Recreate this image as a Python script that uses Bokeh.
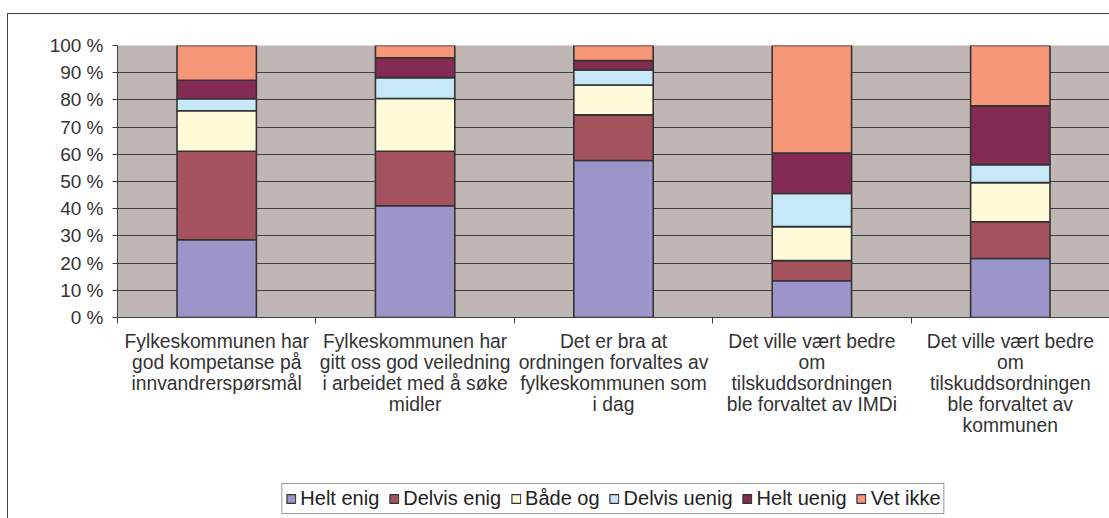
from bokeh.plotting import figure
from bokeh.layouts import column
from bokeh.models import Range1d, FixedTicker, Legend, LegendItem, ColumnDataSource
from bokeh.embed import file_html
from bokeh.resources import INLINE

categories = [
    "Fylkeskommunen har\ngod kompetanse på\ninnvandrerspørsmål",
    "Fylkeskommunen har\ngitt oss god veiledning\ni arbeidet med å søke\nmidler",
    "Det er bra at\nordningen forvaltes av\nfylkeskommunen som\ni dag",
    "Det ville vært bedre\nom\ntilskuddsordningen\nble forvaltet av IMDi",
    "Det ville vært bedre\nom\ntilskuddsordningen\nble forvaltet av\nkommunen",
]
series = ["Helt enig", "Delvis enig", "Både og", "Delvis uenig", "Helt uenig", "Vet ikke"]
helt_enig = [28.6, 41.1, 57.7, 13.5, 21.7]
delvis_enig = [32.5, 20.0, 16.8, 7.4, 13.5]
bade_og = [14.9, 19.4, 11.0, 12.5, 14.4]
delvis_uenig = [4.4, 7.7, 5.5, 12.2, 6.6]
helt_uenig = [6.8, 7.3, 3.5, 14.9, 21.6]
vet_ikke = [12.8, 4.5, 5.5, 39.5, 22.2]
colors = ["#9B95C9", "#A5525F", "#FFFAD7", "#C6E8F8", "#832B53", "#F6977A"]
y_ticks = list(range(0, 101, 10))

xs = list(range(1, len(categories) + 1))
source = ColumnDataSource(dict(
    x=xs,
    s0=helt_enig, s1=delvis_enig, s2=bade_og, s3=delvis_uenig, s4=helt_uenig, s5=vet_ikke,
))
keys = ["s0", "s1", "s2", "s3", "s4", "s5"]

FONT = "Liberation Sans"
DARK = "#404040"

p = figure(width=1101, height=424, x_range=Range1d(0.5, len(categories) + 0.5),
           y_range=Range1d(0, 100), output_backend="svg", toolbar_location=None,
           min_border_left=109, min_border_right=0, min_border_top=31, min_border_bottom=0)
p.background_fill_color = "#C0B7B4"
p.border_fill_color = "white"
p.outline_line_color = None

renderers = p.vbar_stack(keys, x="x", width=0.4, color=colors, line_color="#333333",
                         line_width=1.6, source=source)

p.xgrid.grid_line_color = None
p.ygrid.grid_line_color = DARK
p.ygrid.grid_line_width = 1
p.ygrid.ticker = FixedTicker(ticks=y_ticks)

p.yaxis.ticker = FixedTicker(ticks=y_ticks)
p.yaxis.major_label_overrides = {t: f"{t} %" for t in y_ticks}
p.yaxis.axis_line_color = DARK
p.yaxis.major_tick_line_color = DARK
p.yaxis.major_tick_in = 0
p.yaxis.major_tick_out = 5
p.yaxis.minor_tick_line_color = None
p.yaxis.major_label_text_font = FONT
p.yaxis.major_label_text_font_size = "19px"
p.yaxis.major_label_text_color = "#333333"
p.yaxis.major_label_standoff = 9

p.xaxis.ticker = FixedTicker(ticks=xs, minor_ticks=[x - 0.5 for x in xs] + [xs[-1] + 0.5])
p.xaxis.major_label_overrides = {x: c for x, c in zip(xs, categories)}
p.xaxis.axis_line_color = DARK
p.xaxis.major_tick_line_color = None
p.xaxis.major_tick_in = 0
p.xaxis.major_tick_out = 0
p.xaxis.minor_tick_line_color = DARK
p.xaxis.minor_tick_in = 0
p.xaxis.minor_tick_out = 6
p.xaxis.major_label_text_font = FONT
p.xaxis.major_label_text_font_size = "19.3px"
p.xaxis.major_label_text_line_height = 1.0
p.xaxis.major_label_text_color = "#333333"
p.xaxis.major_label_standoff = 7

# Legend drawn in a separate strip below the chart; its renderers repeat the
# same stacked series, with the strip's y range set above the stacks so only
# the legend glyphs show.
lg = figure(width=1101, height=80, x_range=Range1d(0.5, len(categories) + 0.5),
            y_range=Range1d(200, 201),
            output_backend="svg", toolbar_location=None,
            min_border_left=93, min_border_right=0, min_border_top=0, min_border_bottom=0)
lg.axis.visible = False
lg.grid.visible = False
lg.outline_line_color = None
lg_renderers = lg.vbar_stack(keys, x="x", width=0.4, fill_color=colors, line_color="#333333",
                             line_width=1.2, source=source)
legend = Legend(items=[LegendItem(label=n, renderers=[r]) for n, r in zip(series, lg_renderers)],
                orientation="horizontal", location="top_center",
                border_line_color="#333333", border_line_width=1,
                label_text_font=FONT, label_text_font_size="20px", label_text_color="#222222",
                glyph_width=11, glyph_height=11, label_standoff=4, spacing=9, padding=3,
                label_height=18, margin=45)
lg.add_layout(legend, "center")

layout = column(p, lg, spacing=0,
                styles={"border-top": "1px solid #404040", "border-left": "1px solid #404040",
                        "margin-top": "13px", "margin-left": "7px"})

open("out.html", "w").write(file_html(layout, INLINE))
